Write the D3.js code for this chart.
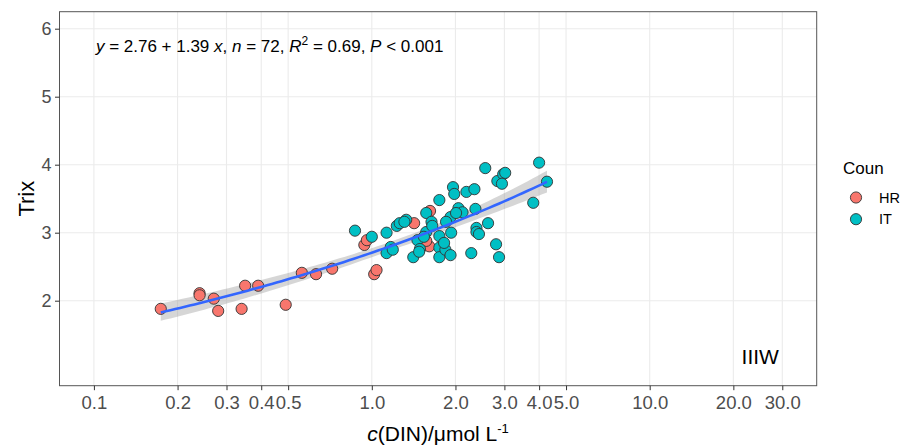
<!DOCTYPE html>
<html lang="en">
<head>
<meta charset="UTF-8">
<title>Trix vs DIN</title>
<script src="https://d3js.org/d3.v7.min.js"></script>
<style>
  body { margin: 0; background: #fff; font-family: "Liberation Sans", Arial, sans-serif; }
  svg { display: block; }
  .grid line { stroke: #ebebeb; stroke-width: 1.1; }
  .axis path { display: none; }
  .axis line { stroke: #333; }
  .axis text { fill: #4d4d4d; font-family: "Liberation Sans", Arial, sans-serif; }
</style>
</head>
<body>
<svg width="904" height="446"></svg>
<script>
// HR stations
const hrX = [0.174, 0.24, 0.24, 0.27, 0.28, 0.34, 0.35, 0.39, 0.49, 0.56, 0.63, 0.72, 1.02, 1.04, 0.94, 0.96, 1.42, 1.62, 1.61, 1.57];
const hrY = [1.88, 2.11, 2.08, 2.03, 1.85, 1.88, 2.22, 2.22, 1.94, 2.41, 2.39, 2.47, 2.39, 2.45, 2.82, 2.89, 3.14, 3.32, 2.80, 2.88];
// IT stations
const itX = [0.87, 1.00, 1.13, 1.17, 1.13, 1.19, 1.23, 1.26, 1.33, 1.41, 1.46, 1.49, 1.57, 1.64, 1.57, 1.54,
             1.75, 1.75, 1.75, 1.84, 1.92, 1.93, 1.92, 1.75, 1.96, 1.98, 2.05, 2.12, 2.19, 2.34, 2.36, 2.38,
             2.38, 2.43, 2.62, 2.28, 2.56, 2.83, 2.97, 3.02, 2.94, 2.80, 2.87, 3.81, 4.00, 4.27, 1.82, 1.65,
             1.48, 2.01, 1.85, 1.31];
const itY = [3.03, 2.94, 3.00, 2.79, 2.70, 2.75, 3.10, 3.14, 3.19, 2.64, 2.89, 2.76, 3.29, 3.16, 3.01, 2.94,
             2.95, 2.78, 2.64, 2.75, 2.67, 3.00, 3.23, 3.48, 3.67, 3.57, 3.36, 3.30, 3.60, 3.64, 3.35, 3.07,
             3.01, 2.98, 3.14, 2.70, 3.95, 3.76, 3.86, 3.88, 3.72, 2.83, 2.64, 3.44, 4.03, 3.75, 2.85, 3.10,
             2.72, 3.29, 3.16, 3.16];

const groups = ["HR", "IT"];
const groupColors = ["#F8766D", "#00BFC4"];
const xTicks = [0.1, 0.2, 0.3, 0.4, 0.5, 1, 2, 3, 4, 5, 10, 20, 30];
const yTicks = [2, 3, 4, 5, 6];
const xLimits = [0.1, 30];
const yLimits = [1, 6];

const width = 904, height = 446;
const panel = { left: 59.5, right: 816.7, top: 11.7, bottom: 385.7 };

const svg = d3.select("svg");

// ggplot style 5% expansion
const lx = xLimits.map(Math.log10);
const ex = (lx[1] - lx[0]) * 0.05;
const x = d3.scaleLog()
    .domain([Math.pow(10, lx[0] - ex), Math.pow(10, lx[1] + ex)])
    .range([panel.left, panel.right]);
const ey = (yLimits[1] - yLimits[0]) * 0.05;
const y = d3.scaleLinear()
    .domain([yLimits[0] - ey, yLimits[1] + ey])
    .range([panel.bottom, panel.top]);

// grid
const grid = svg.append("g").attr("class", "grid");
grid.selectAll(".gx").data(xTicks).enter().append("line")
    .attr("x1", d => x(d)).attr("x2", d => x(d))
    .attr("y1", panel.top).attr("y2", panel.bottom);
grid.selectAll(".gy").data(yTicks).enter().append("line")
    .attr("y1", d => y(d)).attr("y2", d => y(d))
    .attr("x1", panel.left).attr("x2", panel.right);

// fit: ln(Trix) ~ ln(DIN), with 95% confidence band
const allX = hrX.concat(itX), allY = hrY.concat(itY);
const u = allX.map(Math.log), v = allY.map(Math.log);
const n = u.length;
const mu = d3.mean(u), mv = d3.mean(v);
const sxx = d3.sum(u, d => (d - mu) * (d - mu));
const sxy = d3.sum(u.map((d, i) => (d - mu) * (v[i] - mv)));
const b = sxy / sxx, a = mv - b * mu;
const sse = d3.sum(u.map((d, i) => Math.pow(v[i] - (a + b * d), 2)));
const s = Math.sqrt(sse / (n - 2));
const tq = 1.994;
const fitPts = d3.range(0, 81).map(i => {
    const uu = d3.min(u) + (d3.max(u) - d3.min(u)) * i / 80;
    const se = s * Math.sqrt(1 / n + (uu - mu) * (uu - mu) / sxx);
    const fit = a + b * uu;
    return { x: Math.exp(uu), y: Math.exp(fit), lo: Math.exp(fit - tq * se), hi: Math.exp(fit + tq * se) };
});

svg.append("path")
    .datum(fitPts)
    .attr("fill", "#999999").attr("fill-opacity", 0.4)
    .attr("d", d3.area().x(d => x(d.x)).y0(d => y(d.lo)).y1(d => y(d.hi)));

// points
const pts = svg.append("g");
[[hrX, hrY, 0], [itX, itY, 1]].forEach(([xs, ys, g]) => {
    pts.selectAll(null).data(xs.map((d, i) => [d, ys[i]])).enter().append("circle")
        .attr("cx", d => x(d[0])).attr("cy", d => y(d[1]))
        .attr("r", 5.6)
        .attr("fill", groupColors[g])
        .attr("stroke", "#333").attr("stroke-width", 0.9);
});

svg.append("path")
    .datum(fitPts)
    .attr("fill", "none").attr("stroke", "#3366FF").attr("stroke-width", 2.6)
    .attr("d", d3.line().x(d => x(d.x)).y(d => y(d.y)));

// panel border
svg.append("rect")
    .attr("x", panel.left).attr("y", panel.top)
    .attr("width", panel.right - panel.left).attr("height", panel.bottom - panel.top)
    .attr("fill", "none").attr("stroke", "#555").attr("stroke-width", 1);

// axes
const fmt = d3.format(".1f");
const xAxis = svg.append("g").attr("class", "axis")
    .attr("transform", `translate(0,${panel.bottom})`)
    .call(d3.axisBottom(x).tickValues(xTicks).tickFormat(fmt).tickSize(4.5).tickPadding(6));
xAxis.selectAll("text").style("font-size", "18.5px");

const yAxis = svg.append("g").attr("class", "axis")
    .attr("transform", `translate(${panel.left},0)`)
    .call(d3.axisLeft(y).tickValues(yTicks).tickFormat(d3.format("d")).tickSize(4.5).tickPadding(3.5));
yAxis.selectAll("text").style("font-size", "18px");

// axis titles
const xt = svg.append("text")
    .attr("x", (panel.left + panel.right) / 2).attr("y", 441)
    .attr("text-anchor", "middle").style("font-size", "21px").attr("fill", "#000");
xt.append("tspan").style("font-style", "italic").text("c");
xt.append("tspan").text("(DIN)/μmol L");
xt.append("tspan").attr("dy", -8).style("font-size", "13px").text("-1");

svg.append("text")
    .attr("transform", `translate(34,${(panel.top + panel.bottom) / 2}) rotate(-90)`)
    .attr("text-anchor", "middle").style("font-size", "22px").attr("fill", "#000")
    .text("Trix");

// equation label
const eqParts = [
    ["y", "i"], [" = 2.76 + 1.39 ", ""], ["x", "i"], [", ", ""], ["n", "i"], [" = 72, ", ""],
    ["R", "i"], ["2", "sup"], [" = 0.69, ", "after"], ["P", "i"], [" < 0.001", ""]
];
const eq = svg.append("text")
    .attr("x", x(xLimits[0]) + 2).attr("y", 51.5)
    .style("font-size", "17px").attr("fill", "#000");
eqParts.forEach(([t, k]) => {
    const ts = eq.append("tspan").text(t);
    if (k === "i") ts.style("font-style", "italic");
    if (k === "sup") ts.attr("dy", -7).style("font-size", "12px");
    if (k === "after") ts.attr("dy", 7);
});

// panel tag
svg.append("text")
    .attr("x", x(25)).attr("y", 363.5)
    .attr("text-anchor", "middle").style("font-size", "21px").attr("fill", "#000")
    .text("IIIW");

// legend
const leg = svg.append("g").attr("transform", "translate(843,0)");
leg.append("text").attr("x", 0).attr("y", 173.5)
    .style("font-size", "17px").attr("fill", "#000").text("Coun");
groups.forEach((g, i) => {
    leg.append("circle").attr("cx", 13).attr("cy", 197.5 + i * 21.7).attr("r", 5.6)
        .attr("fill", groupColors[i]).attr("stroke", "#333").attr("stroke-width", 0.9);
    leg.append("text").attr("x", 36).attr("y", 197.5 + i * 21.7).attr("dy", "0.35em")
        .style("font-size", "14.5px").attr("fill", "#000").text(g);
});
</script>
</body>
</html>
